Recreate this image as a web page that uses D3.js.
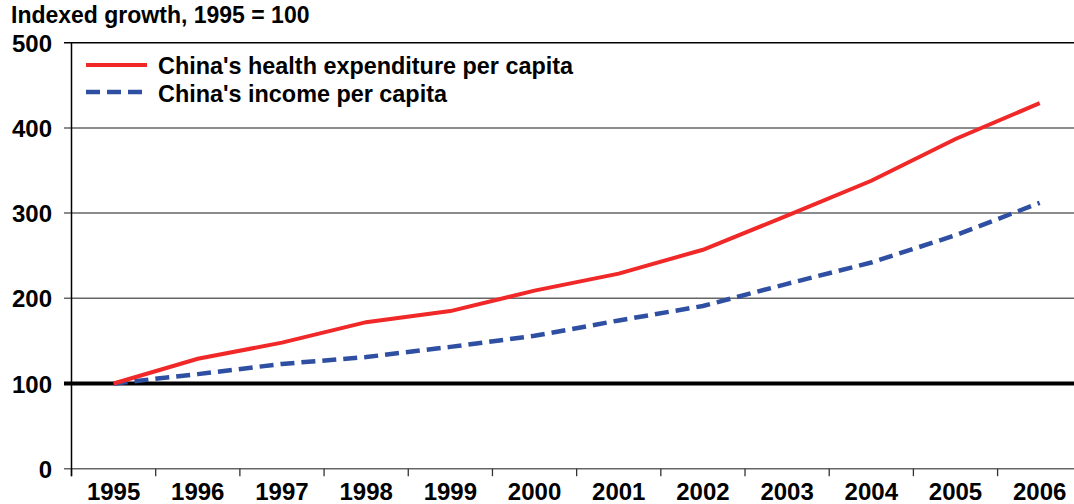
<!DOCTYPE html>
<html>
<head>
<meta charset="utf-8">
<script src="https://cdn.jsdelivr.net/npm/d3@7"></script>
<style>
  html, body { margin: 0; padding: 0; background: #fff; }
  svg { display: block; font-family: "Liberation Sans", Arial, sans-serif; font-weight: bold; }
</style>
</head>
<body>
<svg id="chart" width="1074" height="504"></svg>
<script>
// Indexed growth (1995 = 100) of health spending and income per head in China
const years = ["1995", "1996", "1997", "1998", "1999", "2000", "2001", "2002", "2003", "2004", "2005", "2006"];
const healthExpenditure = [100, 129, 148, 172, 185, 209, 229, 257, 297, 338, 387, 429];
const incomePerCapita = [100, 111, 123, 131, 143, 156, 174, 191, 217, 242, 274, 312];
const yTicks = [0, 100, 200, 300, 400, 500];
const seriesNames = ["China's health expenditure per capita", "China's income per capita"];
const yTitle = "Indexed growth, 1995 = 100";

(function () {
  const svg = d3.select("#chart");
  const W = 1074;
  const plotLeft = 71.5, plotTop = 42.7, plotBottom = 468.7;
  const bandW = 84.19;

  const x = d3.scaleBand().domain(years).range([plotLeft, plotLeft + bandW * years.length]);
  const y = d3.scaleLinear().domain([0, 500]).range([plotBottom, plotTop]);
  const cx = d => x(d) + x.bandwidth() / 2;

  // horizontal gridlines with small ticks left of the axis
  svg.append("g").selectAll("line").data(yTicks.filter(v => v !== 100)).join("line")
    .attr("x1", 64).attr("x2", W)
    .attr("y1", d => y(d)).attr("y2", d => y(d))
    .attr("stroke", d => d === 500 ? "#000" : "#666")
    .attr("stroke-width", 1.5);

  // x-axis tick marks at band boundaries
  svg.append("g").selectAll("line").data(d3.range(years.length + 1)).join("line")
    .attr("x1", i => plotLeft + i * bandW).attr("x2", i => plotLeft + i * bandW)
    .attr("y1", plotBottom).attr("y2", plotBottom + 7.5)
    .attr("stroke", "#333").attr("stroke-width", 1.3);

  // vertical axis
  svg.append("line")
    .attr("x1", plotLeft).attr("x2", plotLeft)
    .attr("y1", plotTop).attr("y2", plotBottom + 7.5)
    .attr("stroke", "#000").attr("stroke-width", 1.5);

  // y tick labels
  svg.append("g").selectAll("text").data(yTicks).join("text")
    .attr("x", 52).attr("y", d => y(d) + 9)
    .attr("text-anchor", "end")
    .attr("font-size", 24)
    .text(d => d);

  // x tick labels
  svg.append("g").selectAll("text").data(years).join("text")
    .attr("x", d => cx(d)).attr("y", 500)
    .attr("text-anchor", "middle")
    .attr("font-size", 24)
    .text(d => d);

  // title
  svg.append("text")
    .attr("x", 11).attr("y", 23)
    .attr("font-size", 23)
    .text(yTitle);

  // base line at 100
  svg.append("line")
    .attr("x1", 64).attr("x2", W)
    .attr("y1", y(100)).attr("y2", y(100))
    .attr("stroke", "#000").attr("stroke-width", 4);

  const line = d3.line().x((d, i) => cx(years[i])).y(d => y(d));

  svg.append("path")
    .datum(incomePerCapita)
    .attr("d", line)
    .attr("fill", "none")
    .attr("stroke", "#2f4fa3")
    .attr("stroke-width", 4.5)
    .attr("stroke-dasharray", "14,7");

  svg.append("path")
    .datum(healthExpenditure)
    .attr("d", line)
    .attr("fill", "none")
    .attr("stroke", "#f02828")
    .attr("stroke-width", 4);

  // legend
  const legend = svg.append("g");
  const legendRows = [
    { name: seriesNames[0], color: "#f02828", dash: null, ly: 65, ty: 74 },
    { name: seriesNames[1], color: "#2f4fa3", dash: "14,7", ly: 92, ty: 101.5 }
  ];
  legendRows.forEach(r => {
    legend.append("line")
      .attr("x1", 86).attr("x2", 147)
      .attr("y1", r.ly).attr("y2", r.ly)
      .attr("stroke", r.color)
      .attr("stroke-width", r.dash ? 4.5 : 4)
      .attr("stroke-dasharray", r.dash);
    legend.append("text")
      .attr("x", 158).attr("y", r.ty)
      .attr("font-size", 23.4)
      .text(r.name);
  });
})();
</script>
</body>
</html>
